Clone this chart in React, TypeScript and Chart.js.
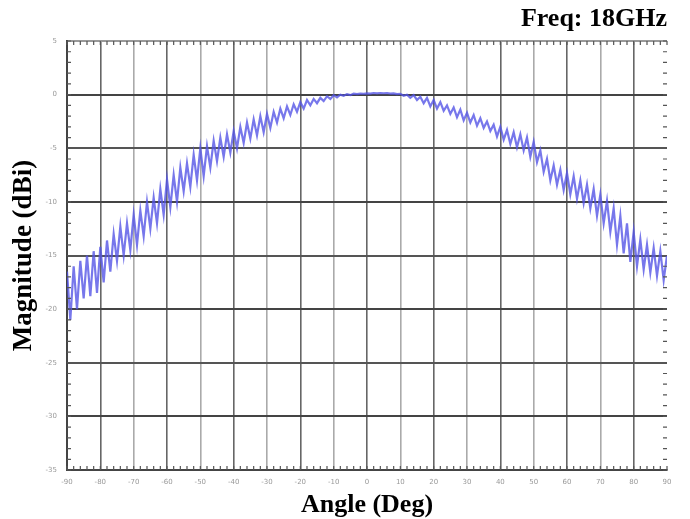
import React, { useEffect, useRef } from "react";
import { Chart, registerables } from "chart.js";

Chart.register(...registerables);

const TITLE = "Freq: 18GHz";
const X_TITLE = "Angle (Deg)";
const Y_TITLE = "Magnitude (dBi)";
const ANGLE_START = -90;
const ANGLE_STEP = 1;
const X_MIN = -90;
const X_MAX = 90;
const Y_MIN = -35;
const Y_MAX = 5;

// measured magnitude (dBi), one value per degree from -90 to 90
const MAGNITUDE: number[] = [
  -16.5, -21.0, -16.0, -20.0, -15.5, -19.0, -15.0, -18.8, -14.6, -18.5,
  -14.2, -17.5, -13.6, -16.5, -13.0, -15.5, -12.3, -15.0, -12.0, -14.5,
  -11.2, -14.0, -10.8, -13.2, -10.0, -12.5, -9.6, -12.0, -8.8, -11.2,
  -7.9, -10.5, -7.5, -10.0, -6.8, -9.0, -6.4, -8.6, -5.6, -8.0,
  -5.0, -7.6, -4.8, -6.8, -4.3, -6.2, -4.0, -5.8, -3.7, -5.4,
  -3.4, -5.0, -3.0, -4.5, -2.6, -4.1, -2.3, -3.8, -2.0, -3.5,
  -1.8, -3.1, -1.6, -2.6, -1.3, -2.2, -1.1, -1.9, -0.9, -1.6,
  -0.7, -1.3, -0.5, -1.0, -0.4, -0.8, -0.3, -0.6, -0.15, -0.4,
  -0.05, -0.25, 0.0, -0.1, 0.05, -0.05, 0.1, 0.05, 0.1, 0.08,
  0.12, 0.1, 0.15, 0.12, 0.15, 0.13, 0.15, 0.1, 0.12, 0.05,
  0.08, -0.1, 0.0, -0.3, -0.05, -0.5, -0.2, -0.8, -0.3, -1.1,
  -0.5, -1.3, -0.7, -1.5, -1.0, -1.8, -1.2, -2.1, -1.4, -2.4,
  -1.7, -2.6, -1.9, -2.9, -2.2, -3.1, -2.5, -3.4, -2.8, -3.9,
  -3.0, -4.2, -3.3, -4.6, -3.5, -4.9, -3.7, -5.2, -4.0, -5.8,
  -4.4, -6.3, -5.2, -7.2, -6.0, -8.0, -6.6, -8.4, -7.0, -8.9,
  -7.3, -9.3, -7.6, -9.7, -8.0, -10.1, -8.4, -10.6, -8.8, -11.3,
  -9.3, -12.0, -9.9, -12.8, -10.6, -14.0, -11.3, -14.8, -12.0, -15.6,
  -12.8, -16.0, -13.5, -16.3, -14.0, -16.6, -14.3, -16.9, -14.6, -17.3,
  -15.0,
];

const SERIF = "'Liberation Serif', 'Times New Roman', serif";

const minorTicks = {
  id: "minorTicks",
  afterDraw(chart: any) {
    const { ctx, chartArea: a, scales } = chart;
    const xs = scales.x;
    const ys = scales.y;
    ctx.save();
    ctx.strokeStyle = "#555";
    ctx.lineWidth = 1.2;
    ctx.beginPath();
    for (let v = X_MIN; v <= X_MAX; v += 2) {
      const px = xs.getPixelForValue(v);
      ctx.moveTo(px, a.bottom);
      ctx.lineTo(px, a.bottom - 4);
      ctx.moveTo(px, a.top);
      ctx.lineTo(px, a.top + 4);
    }
    for (let v = Y_MIN; v <= Y_MAX; v += 1) {
      const py = ys.getPixelForValue(v);
      ctx.moveTo(a.left, py);
      ctx.lineTo(a.left + 4, py);
      ctx.moveTo(a.right, py);
      ctx.lineTo(a.right - 4, py);
    }
    ctx.stroke();
    ctx.restore();
  },
};

export default function App() {
  const ref = useRef<HTMLCanvasElement>(null);
  useEffect(() => {
    if (!ref.current) return;
    const data = MAGNITUDE.map((m, i) => ({ x: ANGLE_START + i * ANGLE_STEP, y: m }));
    const chart = new Chart(ref.current, {
      type: "line",
      data: {
        datasets: [
          {
            data,
            borderColor: "rgba(85,85,230,0.8)",
            borderWidth: 2.2,
            pointRadius: 0,
            tension: 0,
          },
        ],
      },
      options: {
        animation: false,
        responsive: false,
        layout: { padding: { left: 0, right: 23, top: 0, bottom: 0 } },
        plugins: {
          legend: { display: false },
          tooltip: { enabled: false },
          title: {
            display: true,
            text: TITLE,
            align: "end",
            color: "#000",
            font: { family: SERIF, size: 26, weight: "bold", lineHeight: 1 },
            padding: { top: 6, bottom: 9 },
          },
        },
        scales: {
          x: {
            type: "linear",
            min: X_MIN,
            max: X_MAX,
            afterFit: (s: any) => {
              s.height = 49;
            },
            ticks: {
              stepSize: 10,
              color: "#999",
              font: { size: 7, family: "DejaVu Sans" },
              padding: 8,
              maxRotation: 0,
            },
            grid: {
              drawTicks: false,
              color: (c: any) => {
                const v = c.tick ? c.tick.value : 0;
                if (v === X_MAX) return "rgba(0,0,0,0)";
                return Math.abs(v) % 20 === 0 ? "#666" : "#aaa";
              },
              lineWidth: 1.6,
            },
            border: { display: true, color: "#444", width: 2 },
            title: {
              display: true,
              text: X_TITLE,
              color: "#000",
              font: { family: SERIF, size: 26, weight: "bold", lineHeight: 1 },
              padding: { top: 0, bottom: 1 },
            },
          },
          y: {
            type: "linear",
            min: Y_MIN,
            max: Y_MAX,
            afterFit: (s: any) => {
              s.width = 67;
            },
            ticks: {
              stepSize: 5,
              color: "#999",
              font: { size: 7, family: "DejaVu Sans" },
              padding: 10,
            },
            grid: {
              drawTicks: false,
              color: (c: any) => {
                const v = c.tick ? c.tick.value : 0;
                if (v === Y_MAX) return "#999";
                return Math.abs(v) % 10 === 0 ? "#444" : "#555";
              },
              lineWidth: 2,
            },
            border: { display: true, color: "#444", width: 2 },
            title: {
              display: true,
              text: Y_TITLE,
              color: "#000",
              font: { family: SERIF, size: 27, weight: "bold", lineHeight: 1 },
              padding: { top: 11, bottom: 0 },
            },
          },
        },
      },
      plugins: [minorTicks],
    });
    return () => chart.destroy();
  }, []);
  return (
    <div style={{ position: "absolute", left: 0, top: 0, width: 690, height: 519, background: "#fff" }}>
      <canvas ref={ref} width={690} height={519} style={{ display: "block" }} />
    </div>
  );
}
